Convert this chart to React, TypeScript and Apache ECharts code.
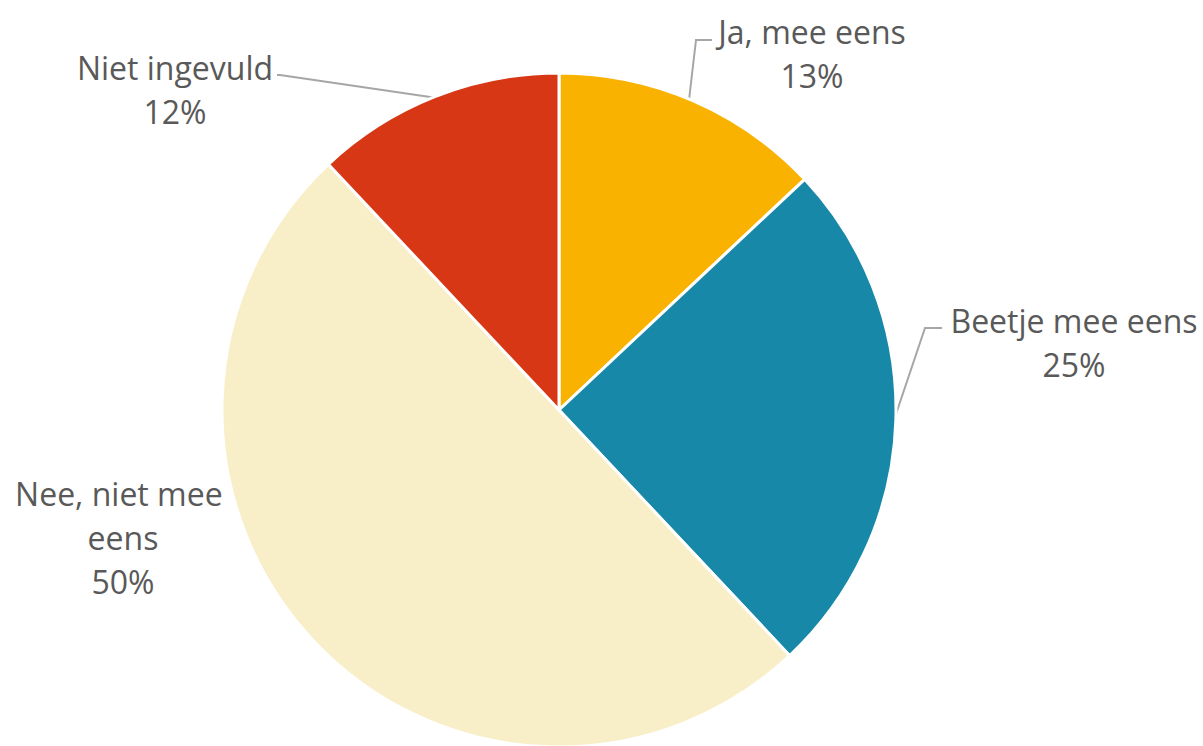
import React, { useEffect, useRef } from "react";
import * as echarts from "echarts";

const categories = ["Ja, mee eens", "Beetje mee eens", "Nee, niet mee eens", "Niet ingevuld"];
const values = [13, 25, 50, 12];
const colors = ["#F9B200", "#1788A8", "#F8EEC8", "#D73715"];
// label anchor (center of text block) and leader line points
const labelAnchors: [number, number][] = [[812, 53], [1074, 342], [123, 537], [175, 89]];
const labelLines: ([number, number][] | null)[] = [
  [[689, 100], [696, 40], [712, 40]],
  [[895, 417], [925, 328], [942, 328]],
  null,
  [[437, 98], [280, 75], [277, 75]],
];
const labelWidths = [300, 300, 240, 260];

export default function App() {
  const ref = useRef<HTMLDivElement>(null);
  useEffect(() => {
    if (!ref.current) return;
    const chart = echarts.init(ref.current, null, { renderer: "svg" });
    chart.setOption({
      animation: false,
      backgroundColor: "#ffffff",
      series: [
        {
          type: "pie",
          center: [559, 410],
          radius: [0, 337],
          startAngle: 90,
          clockwise: true,
          avoidLabelOverlap: false,
          itemStyle: { borderColor: "#ffffff", borderWidth: 3 },
          label: {
            show: true,
            position: "outside",
            color: "#595959",
            fontFamily: "'Open Sans', 'Noto Sans', sans-serif",
            fontSize: 32,
            lineHeight: 44,
            align: "center",
            overflow: "break",
            formatter: (p: any) => `${p.name}\n${p.value}%`,
          },
          labelLine: { show: true, lineStyle: { color: "#A6A6A6", width: 2 }, smooth: false },
          labelLayout: (p: any) => {
            const i = p.dataIndex;
            const res: any = {
              x: labelAnchors[i][0],
              y: labelAnchors[i][1],
              align: "center",
              verticalAlign: "middle",
            };
            if (labelLines[i]) res.labelLinePoints = labelLines[i];
            return res;
          },
          data: categories.map((c, i) => ({
            name: c,
            value: values[i],
            itemStyle: { color: colors[i] },
            label: { width: labelWidths[i] },
            labelLine: { show: labelLines[i] !== null },
          })),
        },
      ],
    });
    return () => chart.dispose();
  }, []);
  return (
    <div
      ref={ref}
      style={{ position: "fixed", left: 0, top: 0, width: 1203, height: 746 }}
    />
  );
}
